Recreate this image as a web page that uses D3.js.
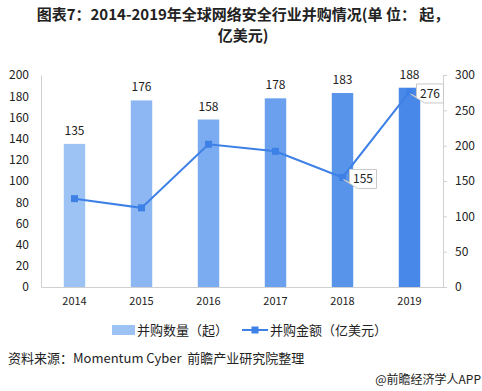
<!DOCTYPE html>
<html>
<head>
<meta charset="utf-8">
<script src="https://d3js.org/d3.v7.min.js"></script>
<style>
  body { margin: 0; background: #fff; }
  svg text { font-family: "Microsoft YaHei", "Noto Sans CJK SC", "DejaVu Sans", sans-serif; }
</style>
</head>
<body>
<div id="chart"></div>
<script>
const years = ["2014", "2015", "2016", "2017", "2018", "2019"];
const dealCounts = [135, 176, 158, 178, 183, 188];
const dealAmounts = [125, 112, 202, 192, 155, 276];
const leftTicks = [0, 20, 40, 60, 80, 100, 120, 140, 160, 180, 200];
const rightTicks = [0, 50, 100, 150, 200, 250, 300];
const calloutYears = ["2018", "2019"];
const titleLines = ["图表7：2014-2019年全球网络安全行业并购情况(单 位： 起，", "亿美元)"];

const width = 482, height = 391;
const margin = { top: 75, right: 39, bottom: 104, left: 41 };
const plotW = width - margin.left - margin.right;
const plotH = height - margin.top - margin.bottom;

const svg = d3.select("#chart").append("svg")
  .attr("width", width)
  .attr("height", height);

// title, two separate lines
svg.selectAll("text.title")
  .data(titleLines)
  .join("text")
  .attr("class", "title")
  .attr("x", 243)
  .attr("y", (_, i) => 20 + i * 21)
  .attr("text-anchor", "middle")
  .attr("font-size", 15)
  .attr("font-weight", "bold")
  .attr("fill", "#222")
  .text(d => d);

const g = svg.append("g").attr("transform", `translate(${margin.left},${margin.top})`);

const x = d3.scaleBand().domain(years).range([0, plotW]).paddingInner(0.68).paddingOuter(0.34);
const yL = d3.scaleLinear().domain([0, 200]).range([plotH, 0]);
const yR = d3.scaleLinear().domain([0, 300]).range([plotH, 0]);

const barColor = d3.scaleLinear().domain([0, years.length - 1]).range(["#9dc3f5", "#4888e8"]);

// bars
g.selectAll("rect.bar")
  .data(dealCounts)
  .join("rect")
  .attr("class", "bar")
  .attr("x", (_, i) => x(years[i]))
  .attr("y", d => yL(d))
  .attr("width", x.bandwidth())
  .attr("height", d => plotH - yL(d))
  .attr("fill", (_, i) => barColor(i));

g.selectAll("text.barlabel")
  .data(dealCounts)
  .join("text")
  .attr("class", "barlabel")
  .attr("x", (_, i) => x(years[i]) + x.bandwidth() / 2)
  .attr("y", d => yL(d) - 9)
  .attr("text-anchor", "middle")
  .attr("font-size", 12)
  .attr("fill", "#222")
  .text(d => d);

// axes
const axisColor = "#d0d0d0";
const left = g.append("g").call(d3.axisLeft(yL).tickValues(leftTicks).tickSize(0).tickPadding(12));
left.select(".domain").attr("stroke", axisColor);
left.selectAll("text").attr("font-size", 12).attr("fill", "#222");

const right = g.append("g").attr("transform", `translate(${plotW},0)`)
  .call(d3.axisRight(yR).tickValues(rightTicks).tickSize(4).tickPadding(8));
right.select(".domain").attr("stroke", axisColor);
right.selectAll(".tick line").attr("stroke", axisColor);
right.selectAll("text").attr("font-size", 12).attr("fill", "#222");

const bottom = g.append("g").attr("transform", `translate(0,${plotH})`)
  .call(d3.axisBottom(x).tickSize(0).tickPadding(10));
bottom.select(".domain").attr("stroke", axisColor);
bottom.selectAll("text").attr("font-size", 11).attr("fill", "#222");

// line
const lineColor = "#3d80e6";
const line = d3.line()
  .x((_, i) => x(years[i]) + x.bandwidth() / 2)
  .y(d => yR(d));
g.append("path")
  .datum(dealAmounts)
  .attr("d", line)
  .attr("fill", "none")
  .attr("stroke", lineColor)
  .attr("stroke-width", 2);

g.selectAll("rect.marker")
  .data(dealAmounts)
  .join("rect")
  .attr("class", "marker")
  .attr("x", (_, i) => x(years[i]) + x.bandwidth() / 2 - 3.5)
  .attr("y", d => yR(d) - 3.5)
  .attr("width", 7)
  .attr("height", 7)
  .attr("fill", lineColor);

// callouts for line values
calloutYears.forEach(yr => {
  const i = years.indexOf(yr);
  const px = x(yr) + x.bandwidth() / 2;
  const py = yR(dealAmounts[i]);
  const bx = px + 7, by = py - 8, bw = 27, bh = 19;
  const path = `M${bx},${by} H${bx + bw} V${by + bh} H${bx + 8} L${px + 1},${py + 2} L${bx},${by + bh - 6} Z`;
  g.append("path")
    .attr("d", path)
    .attr("fill", "#fff")
    .attr("stroke", "#c8c8c8")
    .attr("stroke-width", 1);
  g.append("text")
    .attr("x", bx + bw / 2)
    .attr("y", by + bh / 2 + 4.5)
    .attr("text-anchor", "middle")
    .attr("font-size", 12)
    .attr("fill", "#222")
    .text(dealAmounts[i]);
});

// legend
const legend = svg.append("g").attr("transform", "translate(0,330)");
legend.append("rect").attr("x", 112).attr("y", -5).attr("width", 23).attr("height", 10).attr("fill", "#9dc3f5");
legend.append("text").attr("x", 137).attr("y", 5).attr("font-size", 13).attr("fill", "#222").text("并购数量（起）");
legend.append("line").attr("x1", 242).attr("x2", 268).attr("y1", 0).attr("y2", 0)
  .attr("stroke", lineColor).attr("stroke-width", 2);
legend.append("rect").attr("x", 251.5).attr("y", -3.5).attr("width", 7).attr("height", 7).attr("fill", lineColor);
legend.append("text").attr("x", 270).attr("y", 5).attr("font-size", 13).attr("fill", "#222").text("并购金额（亿美元）");

// source
svg.append("text").attr("x", 8).attr("y", 363).attr("font-size", 13).attr("fill", "#222")
  .text("资料来源：Momentum Cyber\u00a0\u00a0前瞻产业研究院整理");
svg.append("text").attr("x", 481).attr("y", 384).attr("text-anchor", "end").attr("font-size", 12).attr("fill", "#222")
  .text("@前瞻经济学人APP");
</script>
</body>
</html>
